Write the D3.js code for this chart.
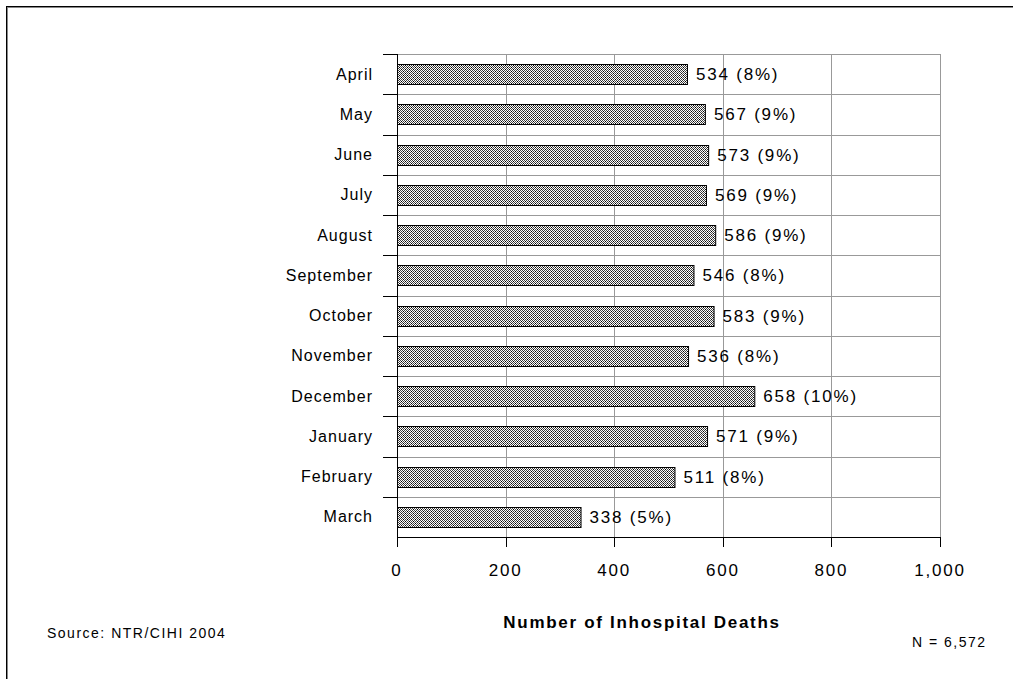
<!DOCTYPE html>
<html><head><meta charset="utf-8">
<script src="https://cdn.jsdelivr.net/npm/d3@7"></script>
<style>
html,body{margin:0;padding:0;background:#fff;}
svg{display:block;}
text{font-family:"Liberation Sans",Arial,sans-serif;fill:#000;}
</style></head>
<body>
<script>
const categories = ["April","May","June","July","August","September","October","November","December","January","February","March"];
const deaths = [534,567,573,569,586,546,583,536,658,571,511,338];
const percents = [8,9,9,9,9,8,9,8,10,9,8,5];
const xTicks = [0,200,400,600,800,1000];
const xTickLabels = ["0","200","400","600","800","1,000"];
const axisTitle = "Number of Inhospital Deaths";
const sourceText = "Source: NTR/CIHI 2004";
const totalText = "N = 6,572";

const W = 1013, H = 679;
const svg = d3.select("body").append("svg").attr("width", W).attr("height", H);

// pattern
const defs = svg.append("defs");
const pat = defs.append("pattern").attr("id","hatch").attr("patternUnits","userSpaceOnUse")
  .attr("width",4).attr("height",4);
pat.append("rect").attr("width",4).attr("height",4).attr("fill","#fff");
[[0,0],[2,0],[1,1],[3,1],[0,2],[2,2],[1,3],[3,3]].forEach(([px,py])=>{
  pat.append("rect").attr("x",px).attr("y",py).attr("width",1).attr("height",1).attr("fill","#444");
});
pat.append("rect").attr("x",1).attr("y",1).attr("width",1).attr("height",1).attr("fill","#000");
pat.append("rect").attr("x",3).attr("y",3).attr("width",1).attr("height",1).attr("fill","#000");

// outer frame (top and left)
svg.append("line").attr("x1",6).attr("x2",W).attr("y1",6.5).attr("y2",6.5).attr("stroke","#000").attr("stroke-width",1);
svg.append("line").attr("x1",6).attr("x2",W).attr("y1",7.5).attr("y2",7.5).attr("stroke","#888").attr("stroke-width",1);
svg.append("line").attr("x1",6.5).attr("x2",6.5).attr("y1",6).attr("y2",H).attr("stroke","#000").attr("stroke-width",1);
svg.append("line").attr("x1",7.5).attr("x2",7.5).attr("y1",7).attr("y2",H).attr("stroke","#888").attr("stroke-width",1);

const x0 = 397, x1 = 940, yTop = 54, yBot = 537;
const x = d3.scaleLinear().domain([0,1000]).range([x0,x1]);
const y = d3.scaleBand().domain(categories).range([yTop,yBot]).paddingInner(0.5).paddingOuter(0.25);
const step = y.step();

const g = svg.append("g");

// vertical gridlines
g.selectAll(".vg").data(xTicks.slice(1)).enter().append("line")
  .attr("x1",d=>Math.round(x(d))+0.5).attr("x2",d=>Math.round(x(d))+0.5)
  .attr("y1",yTop).attr("y2",yBot).attr("stroke","#999");
// horizontal gridlines at band boundaries
const bounds = d3.range(categories.length+1).map(i=>yTop + i*step);
g.selectAll(".hg").data(bounds.slice(0,-1)).enter().append("line")
  .attr("x1",x0).attr("x2",x1).attr("y1",d=>Math.round(d)+0.5).attr("y2",d=>Math.round(d)+0.5)
  .attr("stroke","#999");

// bars
g.selectAll(".bar").data(categories).enter().append("rect")
  .attr("x",x(0)+0.5).attr("y",d=>Math.round(y(d))+0.5)
  .attr("width",(d,i)=>x(deaths[i])-x(0))
  .attr("height",Math.round(y.bandwidth()))
  .attr("fill","url(#hatch)").attr("stroke","#000").attr("stroke-width",1);

// value labels
g.selectAll(".val").data(categories).enter().append("text")
  .attr("x",(d,i)=>x(deaths[i])+9).attr("y",d=>y(d)+y.bandwidth()/2)
  .attr("dy","0.35em").style("font-size","17px").style("letter-spacing","1.8px")
  .text((d,i)=>`${deaths[i]} (${percents[i]}%)`);

// y axis
const yAxisG = svg.append("g");
yAxisG.append("line").attr("x1",x0+0.5).attr("x2",x0+0.5).attr("y1",yTop).attr("y2",yBot+10).attr("stroke","#000");
yAxisG.selectAll(".yt").data(bounds.slice(0,-1)).enter().append("line")
  .attr("x1",x0-14).attr("x2",x0).attr("y1",d=>Math.round(d)+0.5).attr("y2",d=>Math.round(d)+0.5).attr("stroke","#000");
yAxisG.selectAll(".yl").data(categories).enter().append("text")
  .attr("x",x0-24).attr("y",d=>y(d)+y.bandwidth()/2).attr("dy","0.35em")
  .attr("text-anchor","end").style("font-size","16px").style("letter-spacing","1px")
  .text(d=>d);

// x axis
const xAxisG = svg.append("g");
xAxisG.append("line").attr("x1",x0).attr("x2",x1+0.5).attr("y1",yBot+0.5).attr("y2",yBot+0.5).attr("stroke","#000");
xAxisG.selectAll(".xt").data(xTicks).enter().append("line")
  .attr("x1",d=>Math.round(x(d))+0.5).attr("x2",d=>Math.round(x(d))+0.5)
  .attr("y1",yBot).attr("y2",yBot+10).attr("stroke","#000");
xAxisG.selectAll(".xl").data(xTicks).enter().append("text")
  .attr("x",d=>x(d)).attr("y",yBot+39).attr("text-anchor","middle")
  .style("font-size","17px").style("letter-spacing","1.8px")
  .text((d,i)=>xTickLabels[i]);

svg.append("text").attr("x",642).attr("y",628).attr("text-anchor","middle")
  .style("font-size","17px").style("font-weight","bold").style("letter-spacing","1.7px").text(axisTitle);
svg.append("text").attr("x",47).attr("y",638).style("font-size","14px").style("letter-spacing","1.5px").text(sourceText);
svg.append("text").attr("x",912).attr("y",647).style("font-size","14px").style("letter-spacing","1.5px").text(totalText);
</script>
</body></html>
